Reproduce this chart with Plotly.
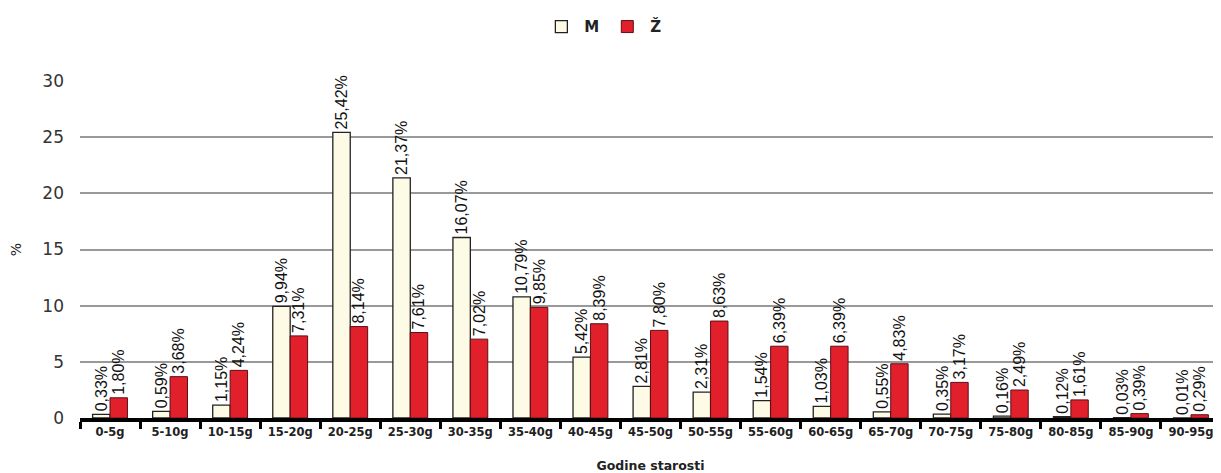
import plotly.graph_objects as go

categories = ["0-5g", "5-10g", "10-15g", "15-20g", "20-25g", "25-30g", "30-35g",
              "35-40g", "40-45g", "45-50g", "50-55g", "55-60g", "60-65g", "65-70g",
              "70-75g", "75-80g", "80-85g", "85-90g", "90-95g"]
male = [0.33, 0.59, 1.15, 9.94, 25.42, 21.37, 16.07, 10.79, 5.42, 2.81, 2.31, 1.54,
        1.03, 0.55, 0.35, 0.16, 0.12, 0.03, 0.01]
female = [1.80, 3.68, 4.24, 7.31, 8.14, 7.61, 7.02, 9.85, 8.39, 7.80, 8.63, 6.39,
          6.39, 4.83, 3.17, 2.49, 1.61, 0.39, 0.29]
y_ticks = [0, 5, 10, 15, 20, 25, 30]


def fmt(v):
    return f"{v:.2f}%".replace(".", ",")


label_font = dict(family="Liberation Sans, Arial", size=16, color="#111")

fig = go.Figure()
fig.add_trace(go.Bar(
    name="M", x=categories, y=male, text=[fmt(v) for v in male],
    textposition="outside", textangle=-90, constraintext="none", cliponaxis=False,
    textfont=label_font,
    marker=dict(color="#fdfbe6", line=dict(color="#222", width=1.3)),
))
fig.add_trace(go.Bar(
    name="Ž", x=categories, y=female, text=[fmt(v) for v in female],
    textposition="outside", textangle=-90, constraintext="none", cliponaxis=False,
    textfont=label_font,
    marker=dict(color="#e2202c", line=dict(color="#5a1015", width=1)),
))

# the page body has an 8px margin, so the figure is sized to fit the window
fig.update_layout(
    width=1213, height=465,
    margin=dict(l=72, r=0, t=73, b=55, autoexpand=False),
    paper_bgcolor="white", plot_bgcolor="white",
    barmode="group", bargap=0.42, bargroupgap=0,
    showlegend=True,
    legend=dict(orientation="h", x=0.49, xref="container", xanchor="center",
                y=0.995, yref="container", yanchor="top",
                font=dict(family="DejaVu Sans", size=15, color="#222", weight="bold"),
                itemwidth=36, traceorder="normal", bgcolor="rgba(0,0,0,0)"),
    font=dict(family="DejaVu Sans", color="#222"),
)
fig.update_xaxes(
    showline=True, linecolor="black", linewidth=4, automargin=False,
    ticks="outside", tickson="boundaries", ticklen=7, tickwidth=3, tickcolor="black",
    tickfont=dict(family="DejaVu Sans", size=11.5, color="#222", weight="bold"),
    title=dict(text="Godine starosti", standoff=24,
               font=dict(family="DejaVu Sans", size=12.5, color="#222", weight="bold")),
    showgrid=False,
)
fig.update_yaxes(
    range=[0, 30], tickvals=y_ticks, showgrid=True, gridcolor="#999999", gridwidth=1.5,
    zeroline=False, showline=False, ticks="", ticklabelstandoff=15, automargin=False,
    tickfont=dict(family="DejaVu Sans", size=17, color="#333"),
    title=dict(text="%", standoff=26, font=dict(family="DejaVu Sans", size=14, color="#222")),
)

fig.write_html("out.html")
